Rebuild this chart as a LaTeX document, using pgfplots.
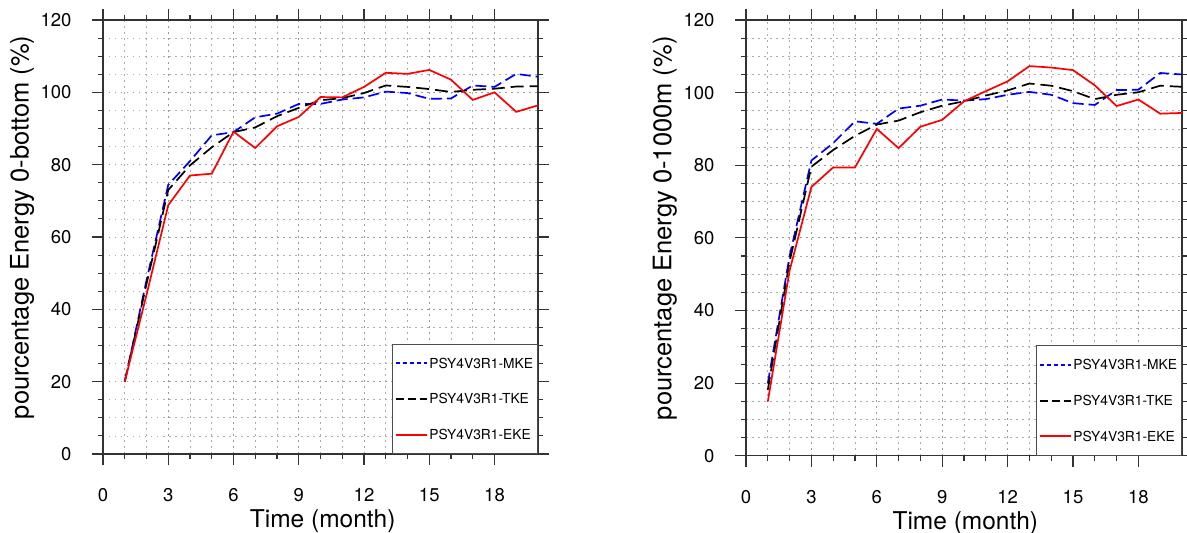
\documentclass[border=0pt]{standalone}
\usepackage{fontspec}
\setmainfont{TeX Gyre Heros}
\usepackage{pgfplots}
\usepackage{pgfplotstable}
\pgfplotsset{compat=1.18}

\pgfplotstableread{
m   mke   tke   eke
1   20.0  20.0  20.0
2   48.0  47.0  44.0
3   74.4  73.0  68.8
4   81.0  79.8  77.0
5   88.1  84.8  77.5
6   89.0  89.0  89.1
7   93.1  90.3  84.6
8   94.1  93.4  90.6
9   96.8  95.7  93.2
10  96.8  97.8  98.7
11  98.0  98.4  98.6
12  98.6  99.8  101.5
13  100.2 101.9 105.4
14  99.8  101.5 105.1
15  98.2  100.9 106.2
16  98.3  100.1 103.5
17  101.9 100.7 97.9
18  101.5 101.0 100.0
19  105.1 101.6 94.6
20  104.3 101.7 96.4
}\leftdata

\pgfplotstableread{
m   mke   tke   eke
1   19.9  18.1  14.9
2   55.0  53.5  51.0
3   81.3  79.6  74.0
4   86.1  84.2  79.4
5   92.1  88.1  79.4
6   91.4  91.2  90.0
7   95.6  92.3  84.7
8   96.4  94.6  90.6
9   98.1  96.4  92.5
10  97.8  97.6  97.6
11  98.2  99.2  100.4
12  99.4  100.6 103.1
13  100.2 102.5 107.3
14  99.4  101.9 106.9
15  97.1  100.4 106.2
16  96.6  98.2  102.0
17  100.7 99.4  96.3
18  100.8 100.1 98.1
19  105.4 101.9 94.2
20  105.0 101.6 94.4
}\rightdata

\tikzset{
  mkeL/.style={draw=blue, line width=1.9pt, dash pattern=on 4pt off 3pt},
  tkeL/.style={draw=black, line width=1.9pt, dash pattern=on 8pt off 4pt},
  ekeL/.style={draw=red, line width=1.9pt, solid},
  mkeP/.style={draw=blue, line width=1.7pt, dash pattern=on 11pt off 5pt},
  tkeP/.style={draw=black, line width=1.7pt, dash pattern=on 13pt off 6pt},
  ekeP/.style={draw=red, line width=1.7pt, solid},
}

\pgfplotsset{
  ncl/.style={
    scale only axis,
    xmin=0, xmax=20, ymin=0, ymax=120,
    xtick={0,3,...,18}, minor x tick num=2,
    ytick={0,20,...,120}, minor y tick num=3,
    tick align=outside,
    major tick length=11pt, minor tick length=5pt,
    xtick pos=both, ytick pos=both,
    xticklabel pos=lower, yticklabel pos=left,
    grid=both,
    major grid style={black!40, line width=0.8pt, dash pattern=on 1.5pt off 4.5pt},
    minor grid style={black!32, line width=0.7pt, dash pattern=on 1.5pt off 4.5pt},
    axis line style={black!80, line width=1.2pt},
    every tick/.style={black!80, line width=1.1pt},
    /pgf/number format/assume math mode=true,
    tick label style={font=\fontsize{18.5}{20}\selectfont},
    xticklabel shift=20pt,
    yticklabel shift=17pt,
    xlabel={Time (month)},
    xlabel style={font=\fontsize{24.5}{26}\selectfont, at={(axis description cs:0.505,0)}, anchor=center, yshift=-67pt},
    ylabel style={font=\fontsize{25.5}{27}\selectfont, anchor=center},
    legend cell align=left,
    legend image code/.code={\draw[##1] (0pt,0pt) -- (31pt,0pt);},
    legend style={at={(1,0)}, anchor=south east, draw=black!70, line width=0.8pt, fill=white,
      font=\fontsize{13.8}{15}\selectfont, inner xsep=2.5pt, inner ysep=12pt, row sep=22pt,
      nodes={inner sep=2pt, text height=9.8pt, text depth=0pt}},
  },
}

\begin{document}
\begin{tikzpicture}[x=1pt,y=1pt]
\path[use as bounding box] (0,0) rectangle (1187,533);

\begin{axis}[ncl, at={(103pt,79pt)}, anchor=south west, width=435pt, height=434pt,
  ylabel={pourcentage Energy 0-bottom (\%)},
  ylabel style={at={(axis description cs:-0.186,0.522)}}]
\addlegendimage{mkeL}\addlegendentry{PSY4V3R1-MKE}
\addlegendimage{tkeL}\addlegendentry{PSY4V3R1-TKE}
\addlegendimage{ekeL}\addlegendentry{PSY4V3R1-EKE}
\addplot[mkeP, forget plot] table[x=m, y=mke] {\leftdata};
\addplot[tkeP, forget plot] table[x=m, y=tke] {\leftdata};
\addplot[ekeP, forget plot] table[x=m, y=eke] {\leftdata};
\end{axis}

\begin{axis}[ncl, at={(746pt,77.3pt)}, anchor=south west, width=436pt, height=435.7pt,
  ylabel={pourcentage Energy 0-1000m (\%)},
  ylabel style={at={(axis description cs:-0.186,0.522)}},
  xlabel style={at={(axis description cs:0.503,0)}}]
\addlegendimage{mkeL}\addlegendentry{PSY4V3R1-MKE}
\addlegendimage{tkeL}\addlegendentry{PSY4V3R1-TKE}
\addlegendimage{ekeL}\addlegendentry{PSY4V3R1-EKE}
\addplot[mkeP, forget plot] table[x=m, y=mke] {\rightdata};
\addplot[tkeP, forget plot] table[x=m, y=tke] {\rightdata};
\addplot[ekeP, forget plot] table[x=m, y=eke] {\rightdata};
\end{axis}
\end{tikzpicture}
\end{document}
